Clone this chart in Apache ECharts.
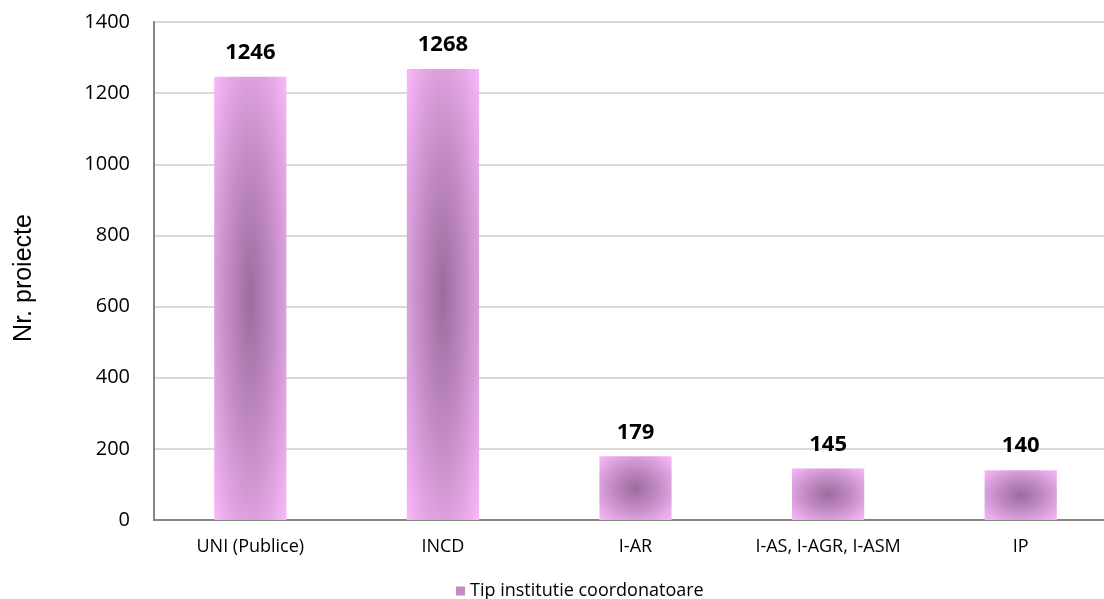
<!DOCTYPE html>
<html>
<head>
<meta charset="utf-8">
<script src="https://cdn.jsdelivr.net/npm/echarts@6/dist/echarts.min.js"></script>
<style>html,body{margin:0;padding:0;background:#fff}#c{width:1104px;height:599px}</style>
</head>
<body>
<div id="c"></div>
<script>
const categories = ['UNI (Publice)', 'INCD', 'I-AR', 'I-AS, I-AGR, I-ASM', 'IP'];
const values = [1246, 1268, 179, 145, 140];
const yTicks = [0, 200, 400, 600, 800, 1000, 1200, 1400];
const seriesName = 'Tip institutie coordonatoare';
const axisTitle = 'Nr. proiecte';

const chart = echarts.init(document.getElementById('c'));
const fillGrad = () => new echarts.graphic.RadialGradient(0.5, 0.5, 0.72, [
  { offset: 0, color: '#9c6c9c' },
  { offset: 0.45, color: '#c48cc6' },
  { offset: 1, color: '#fbbafb' }
]);

chart.setOption({
  animation: false,
  grid: { left: 154, top: 22, right: -13, bottom: 79, containLabel: false, outerBoundsMode: 'none' },
  legend: {
    data: [seriesName],
    left: 451, top: 577,
    icon: 'rect', itemWidth: 9, itemHeight: 9, itemGap: 7,
    textStyle: { fontFamily: 'Open Sans', fontSize: 18, color: '#000' }
  },
  xAxis: {
    type: 'category',
    data: categories,
    axisLine: { lineStyle: { color: '#868686', width: 2 } },
    axisTick: { show: false },
    axisLabel: { margin: 18, fontFamily: 'Open Sans', fontSize: 18, color: '#000' }
  },
  yAxis: {
    type: 'value',
    min: 0, max: 1400, interval: 200,
    name: axisTitle,
    nameLocation: 'middle',
    nameGap: 117,
    nameTextStyle: { fontFamily: 'Liberation Sans', fontSize: 25, color: '#000', padding: [0, 14, 0, 0] },
    axisLine: { show: true, lineStyle: { color: '#868686', width: 2 } },
    axisTick: { show: false },
    splitLine: { lineStyle: { color: '#d9d9d9', width: 2 } },
    axisLabel: {
      margin: 24, fontFamily: 'Open Sans', fontSize: 20, color: '#000',
      formatter: v => yTicks.includes(v) ? String(v) : ''
    }
  },
  series: [{
    name: seriesName,
    type: 'custom',
    itemStyle: { color: '#c48cc6' },
    data: categories.map((c, i) => [i, values[i]]),
    renderItem: function (params, api) {
      const top = api.coord([api.value(0), api.value(1)]);
      const base = api.coord([api.value(0), 0]);
      const bw = api.size([1, 0])[0] * 0.375;
      const h = base[1] - top[1];
      return {
        type: 'group',
        children: [{
          type: 'rect',
          shape: { x: -bw / 2, y: -bw / 2, width: bw, height: bw },
          x: top[0], y: top[1] + h / 2,
          scaleY: h / bw,
          style: { fill: fillGrad() }
        }, {
          type: 'text',
          x: top[0], y: top[1] - 13,
          style: {
            text: String(api.value(1)),
            fontFamily: 'Open Sans', fontWeight: 'bold', fontSize: 22,
            fill: '#000', align: 'center', verticalAlign: 'bottom'
          }
        }]
      };
    }
  }]
});
</script>
</body>
</html>
